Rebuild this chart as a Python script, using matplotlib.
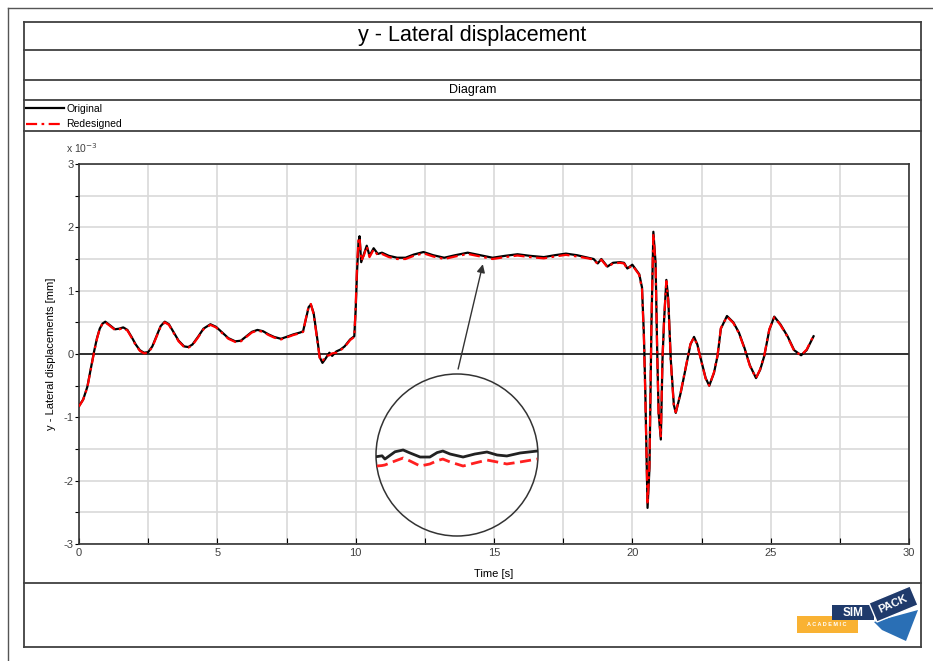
import numpy as np
import matplotlib
matplotlib.use("Agg")
import matplotlib.pyplot as plt
from matplotlib.lines import Line2D
from matplotlib.patches import Circle, Polygon

plt.rcParams['font.family'] = ['Liberation Sans', 'DejaVu Sans']

# ---- data (values in 1e-3 mm) ----
time = [0.0, 0.15, 0.3, 0.45, 0.55, 0.65, 0.75, 0.85, 0.95, 1.1, 1.3, 1.45, 1.6, 1.75, 1.9,
        2.05, 2.2, 2.35, 2.5, 2.65, 2.8, 2.95, 3.1, 3.25, 3.4, 3.6, 3.8, 3.95, 4.1, 4.3,
        4.5, 4.75, 4.95, 5.15, 5.4, 5.65, 5.85, 6.05, 6.25, 6.45, 6.65, 6.85, 7.05, 7.3, 7.5,
        7.75, 8.0, 8.1, 8.2, 8.3, 8.38, 8.48, 8.6, 8.7, 8.8, 8.9, 9.05, 9.15, 9.3, 9.45,
        9.6, 9.8, 9.95, 10.0, 10.05, 10.1, 10.14, 10.2, 10.3, 10.4, 10.5, 10.65, 10.8, 10.95, 11.2,
        11.5, 11.8, 12.1, 12.45, 12.8, 13.2, 13.6, 14.05, 14.5, 14.95, 15.4, 15.85, 16.3, 16.8, 17.2,
        17.6, 18.0, 18.4, 18.6, 18.75, 18.88, 19.1, 19.3, 19.55, 19.7, 19.82, 20.0, 20.25, 20.35, 20.42,
        20.47, 20.55, 20.62, 20.69, 20.76, 20.84, 20.9, 20.95, 21.03, 21.09, 21.15, 21.23, 21.3, 21.39, 21.5,
        21.57, 21.75, 21.99, 22.1, 22.23, 22.35, 22.5, 22.65, 22.78, 22.95, 23.08, 23.2, 23.42, 23.65, 23.85,
        24.05, 24.25, 24.47, 24.62, 24.77, 24.95, 25.13, 25.35, 25.61, 25.85, 26.1, 26.3, 26.55]

original = [-0.82, -0.72, -0.52, -0.18, 0.05, 0.25, 0.40, 0.48, 0.51, 0.46, 0.39, 0.40, 0.42, 0.38, 0.27,
            0.15, 0.06, 0.02, 0.03, 0.12, 0.28, 0.44, 0.51, 0.47, 0.36, 0.21, 0.12, 0.11, 0.15, 0.27,
            0.40, 0.47, 0.43, 0.35, 0.25, 0.20, 0.21, 0.28, 0.35, 0.38, 0.36, 0.31, 0.27, 0.24, 0.27,
            0.31, 0.34, 0.36, 0.55, 0.74, 0.78, 0.65, 0.28, -0.05, -0.14, -0.08, 0.02, -0.03, 0.04, 0.07,
            0.12, 0.23, 0.28, 0.70, 1.30, 1.75, 1.86, 1.45, 1.58, 1.71, 1.55, 1.67, 1.58, 1.60, 1.55,
            1.52, 1.52, 1.57, 1.61, 1.56, 1.52, 1.56, 1.60, 1.56, 1.52, 1.55, 1.575, 1.55, 1.53, 1.56,
            1.585, 1.56, 1.52, 1.50, 1.43, 1.50, 1.38, 1.44, 1.45, 1.44, 1.35, 1.41, 1.26, 1.05, 0.28,
            -0.61, -2.43, -1.80, 0.44, 1.93, 1.44, 0.02, -0.93, -1.35, -0.09, 0.55, 1.17, 0.86, -0.09, -0.80,
            -0.93, -0.61, -0.09, 0.15, 0.27, 0.15, -0.12, -0.38, -0.50, -0.30, -0.03, 0.40, 0.60, 0.50, 0.34,
            0.10, -0.18, -0.38, -0.25, -0.03, 0.38, 0.59, 0.47, 0.28, 0.06, -0.02, 0.06, 0.28]

redesigned = [-0.83, -0.72, -0.53, -0.19, 0.04, 0.24, 0.40, 0.48, 0.50, 0.45, 0.38, 0.39, 0.41, 0.37, 0.26,
              0.14, 0.05, 0.01, 0.02, 0.11, 0.27, 0.43, 0.50, 0.46, 0.35, 0.20, 0.11, 0.10, 0.14, 0.26,
              0.39, 0.46, 0.42, 0.34, 0.24, 0.19, 0.20, 0.27, 0.34, 0.37, 0.35, 0.30, 0.26, 0.23, 0.26,
              0.30, 0.33, 0.35, 0.56, 0.75, 0.79, 0.63, 0.25, -0.06, -0.12, -0.03, -0.02, 0.01, 0.02, 0.06,
              0.11, 0.22, 0.27, 0.75, 1.40, 1.80, 1.84, 1.47, 1.56, 1.70, 1.53, 1.65, 1.56, 1.58, 1.53,
              1.50, 1.50, 1.55, 1.59, 1.54, 1.50, 1.54, 1.58, 1.54, 1.50, 1.53, 1.555, 1.53, 1.51, 1.54,
              1.565, 1.54, 1.51, 1.49, 1.42, 1.49, 1.37, 1.43, 1.44, 1.43, 1.34, 1.40, 1.25, 1.02, 0.22,
              -0.70, -2.38, -1.72, 0.50, 1.90, 1.40, -0.02, -0.95, -1.30, -0.05, 0.58, 1.15, 0.82, -0.12, -0.82,
              -0.92, -0.60, -0.08, 0.16, 0.26, 0.14, -0.13, -0.39, -0.50, -0.29, -0.02, 0.41, 0.59, 0.49, 0.33,
              0.09, -0.19, -0.38, -0.24, -0.02, 0.39, 0.58, 0.46, 0.27, 0.05, -0.02, 0.07, 0.29]

# magnified detail shown in the circle
zoom_time = [12.02, 12.15, 12.22, 12.47, 12.67, 12.84, 13.09, 13.33, 13.51, 13.65, 13.83, 14.15,
             14.44, 14.74, 14.99, 15.23, 15.56, 15.98]
zoom_original = [1.5480, 1.5490, 1.5450, 1.5540, 1.5562, 1.5525, 1.5475, 1.5475, 1.5530, 1.5549,
                 1.5512, 1.5475, 1.5512, 1.5537, 1.5500, 1.5488, 1.5525, 1.5549]
zoom_redesigned = [1.5364, 1.5370, 1.5377, 1.5426, 1.5463, 1.5426, 1.5364, 1.5389, 1.5430, 1.5450,
                   1.5414, 1.5364, 1.5401, 1.5438, 1.5414, 1.5389, 1.5414, 1.5450]

W, H = 933, 661


def fx(px):
    return px / W


def fy(py):
    return 1 - py / H


fig = plt.figure(figsize=(W / 100, H / 100), dpi=100)


def hline(y, x0, x1, lw=1.3, color='#404040'):
    fig.add_artist(Line2D([fx(x0), fx(x1)], [fy(y), fy(y)], color=color, lw=lw))


def vline(x, y0, y1, lw=1.3, color='#404040'):
    fig.add_artist(Line2D([fx(x), fx(x)], [fy(y0), fy(y1)], color=color, lw=lw))


# page frame
hline(8, 8, 933, lw=1.0, color='#555555')
vline(8, 8, 661, lw=1.0, color='#555555')

# report table
for y in [22, 50, 80, 100, 131, 583, 647]:
    hline(y, 24, 921)
vline(24, 22, 647)
vline(921, 22, 647)

fig.text(fx(472), fy(36), 'y - Lateral displacement', ha='center', va='center', fontsize=15.5)
fig.text(fx(473), fy(90), 'Diagram', ha='center', va='center', fontsize=9)

# main axes
ax_left, ax_right, ax_top, ax_bottom = 79, 909, 164, 544
ax = fig.add_axes([fx(ax_left), fy(ax_bottom), fx(ax_right) - fx(ax_left), fy(ax_top) - fy(ax_bottom)])
l1, = ax.plot(time, original, color='black', lw=1.6, label='Original', zorder=3)
l2, = ax.plot(time, redesigned, color='red', lw=1.6, linestyle=(0, (5, 2, 1.2, 2)),
              label='Redesigned', zorder=4)
ax.axhline(0, color='black', lw=1.1, zorder=2)

ax.set_xlim(0, 30)
ax.set_ylim(-3, 3)
xt = np.arange(0, 30.1, 2.5)
ax.set_xticks(xt)
ax.set_xticklabels([f'{int(v)}' if v % 5 == 0 else '' for v in xt])
yt = np.arange(-3, 3.01, 0.5)
ax.set_yticks(yt)
ax.set_yticklabels([f'{int(v)}' if v % 1 == 0 else '' for v in yt])
ax.grid(True, color='#d9d9d9', lw=1.2)
ax.set_axisbelow(True)
ax.tick_params(axis='x', direction='in', length=4, labelsize=8, labelcolor='#404040', pad=3)
ax.tick_params(axis='y', direction='out', length=3, labelsize=8, labelcolor='#404040', pad=1)
for s in ax.spines.values():
    s.set_color('#333333')
    s.set_linewidth(1.2)
ax.set_xlabel('Time [s]', fontsize=8, labelpad=8)
ax.set_ylabel('y - Lateral displacements [mm]', fontsize=8)
ax.yaxis.set_label_coords((56 - ax_left) / (ax_right - ax_left), 0.5)
fig.text(fx(66), fy(148), r'x 10$^{-3}$', fontsize=7.5, ha='left', va='center', color='#404040')

# arrow from the detail circle to the curve
ax.annotate('', xy=(14.62, 1.46), xytext=(13.68, -0.28),
            arrowprops=dict(arrowstyle='-|>', color='#333333', lw=1.0, mutation_scale=12))

# detail circle
cx, cy, r = 457, 455, 81
iax = fig.add_axes([fx(cx - r), fy(cy + r), fx(2 * r), (2 * r) / H])
iax.patch.set_alpha(0)
iax.set_xlim(12.0, 16.0)
iax.set_ylim(1.45, 1.65)
iax.axis('off')
ring = Circle((0.5, 0.5), 0.5, transform=iax.transAxes, fill=False, ec='#333333', lw=1.1,
              clip_on=False)
iax.add_patch(ring)
z1, = iax.plot(zoom_time, zoom_original, color='#222222', lw=2.0)
z2, = iax.plot(zoom_time, zoom_redesigned, color='#ff2020', lw=2.0, linestyle=(0, (4, 2)))
z1.set_clip_path(ring)
z2.set_clip_path(ring)

# legend
fig.legend(handles=[l1, l2], loc='upper left', bbox_to_anchor=(fx(24), fy(102)),
           frameon=False, fontsize=7.5, handlelength=3.6, handletextpad=0.25,
           labelspacing=0.5, borderaxespad=0, borderpad=0.2)


# SIMPACK Academic logo
def pxpoly(pts, **kw):
    fig.add_artist(Polygon([(fx(x), fy(y)) for x, y in pts], closed=True,
                           transform=fig.transFigure, **kw))


pxpoly([(797, 616), (858, 616), (858, 633), (797, 633)], fc='#f9b233', ec='none')
fig.text(fx(827), fy(625), 'A C A D E M I C', fontsize=4, color='white', ha='center',
         va='center', weight='bold')
pxpoly([(874, 622), (918, 610), (906, 641), (882, 630)], fc='#2a6fb5', ec='none')
pxpoly([(832, 605), (874, 605), (874, 620), (832, 620)], fc='#1f3a6b', ec='none')
fig.text(fx(853), fy(612.5), 'SIM', fontsize=8.5, color='white', ha='center', va='center',
         weight='bold')
pxpoly([(869, 603), (910, 586), (918, 605), (877, 622)], fc='#1f3a6b', ec='white', lw=1.0)
fig.text(fx(893), fy(604), 'PACK', fontsize=8, color='white', ha='center', va='center',
         weight='bold', rotation=24)

fig.savefig('out.png', dpi=100)
